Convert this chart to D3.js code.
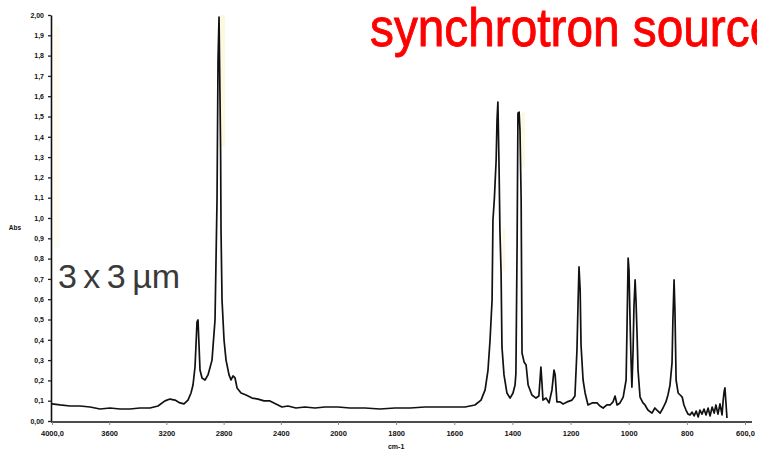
<!DOCTYPE html>
<html>
<head>
<meta charset="utf-8">
<script src="https://cdn.jsdelivr.net/npm/d3@7"></script>
<style>
  html, body { margin: 0; padding: 0; background: #fff; }
  svg { display: block; }
  .tick-label { font-family: "Liberation Sans", Arial, sans-serif; font-weight: bold; fill: #111; }
</style>
</head>
<body>
<svg id="chart" width="757" height="452"></svg>
<script>
// Infrared absorbance spectrum (polypropylene), 3 x 3 µm aperture
const wavenumbers = [
  4000, 3944, 3874, 3804, 3734, 3664, 3594, 3524, 3455, 3385, 3315, 3259, 3210, 3175, 3140, 3105,
  3077, 3049, 3028, 3014, 3000, 2993, 2986, 2979, 2972, 2965, 2951, 2930, 2909, 2881, 2860, 2846,
  2839, 2832, 2825, 2821, 2818, 2811, 2797, 2783, 2762, 2748, 2734, 2720, 2706, 2678, 2643, 2601,
  2559, 2517, 2476, 2434, 2392, 2350, 2294, 2231, 2161, 2091, 2000,
  1959, 1907, 1856, 1804, 1752, 1701, 1649, 1598, 1563, 1529, 1508, 1494, 1484, 1477, 1470, 1467,
  1462, 1456, 1453, 1450, 1446, 1443, 1439, 1436, 1429, 1419, 1408, 1398, 1391, 1388, 1384, 1381,
  1377, 1374, 1370, 1367, 1360, 1353, 1346, 1333, 1319, 1309, 1302, 1298, 1295, 1284, 1274, 1264,
  1257, 1253, 1247, 1236, 1226, 1212, 1195, 1185, 1178, 1174, 1171, 1167, 1164, 1157, 1150, 1140,
  1126, 1109, 1099, 1088, 1075, 1064, 1054, 1047, 1040, 1030, 1019, 1009, 1006, 1002, 999, 996,
  992, 989, 985, 982, 978, 975, 971, 968, 961, 951, 944, 934, 920, 910, 903, 892,
  882, 872, 865, 858, 851, 848, 844, 841, 837, 830, 823, 816, 810, 803, 796, 789,
  782, 775, 768, 761, 755, 748, 741, 734, 727, 720, 713, 706, 700, 693, 686, 679,
  675, 672, 669, 665, 662
];
const absorbance = [
  0.084, 0.079, 0.074, 0.074, 0.069, 0.059, 0.064, 0.059, 0.059, 0.064, 0.064, 0.074, 0.099, 0.108, 0.103, 0.089,
  0.084, 0.103, 0.138, 0.177, 0.266, 0.374, 0.488, 0.498, 0.374, 0.251, 0.212, 0.202, 0.227, 0.300, 0.498, 1.089,
  1.778, 1.990, 1.581, 1.335, 0.941, 0.596, 0.399, 0.300, 0.227, 0.202, 0.222, 0.212, 0.163, 0.138, 0.128, 0.113,
  0.108, 0.099, 0.099, 0.084, 0.069, 0.074, 0.064, 0.069, 0.064, 0.069, 0.069,
  0.064, 0.064, 0.059, 0.064, 0.064, 0.069, 0.069, 0.069, 0.069, 0.079, 0.103, 0.153, 0.251, 0.399, 0.596, 0.990,
  1.099, 1.286, 1.483, 1.571, 1.251, 0.941, 0.729, 0.365, 0.227, 0.138, 0.113, 0.138, 0.177, 0.236, 0.857, 1.517,
  1.522, 1.433, 1.089, 0.335, 0.291, 0.276, 0.177, 0.128, 0.113, 0.123, 0.266, 0.177, 0.103, 0.113, 0.089, 0.153,
  0.251, 0.227, 0.094, 0.094, 0.084, 0.094, 0.103, 0.123, 0.350, 0.596, 0.759, 0.645, 0.374, 0.202, 0.138, 0.079,
  0.089, 0.089, 0.074, 0.064, 0.079, 0.079, 0.094, 0.123, 0.079, 0.089, 0.118, 0.202, 0.448, 0.803, 0.744, 0.532,
  0.300, 0.167, 0.350, 0.562, 0.695, 0.596, 0.414, 0.251, 0.118, 0.089, 0.079, 0.054, 0.039, 0.064, 0.054, 0.039,
  0.064, 0.094, 0.128, 0.177, 0.286, 0.498, 0.695, 0.547, 0.202, 0.138, 0.128, 0.118, 0.079, 0.054, 0.034, 0.030,
  0.044, 0.025, 0.049, 0.020, 0.054, 0.034, 0.059, 0.030, 0.064, 0.025, 0.069, 0.039, 0.079, 0.034, 0.084, 0.030,
  0.103, 0.143, 0.163, 0.079, 0.015
];

// Axis ticks (the wavenumber axis is expanded by 2x below 2000 cm-1)
const xTickValues = [4000, 3600, 3200, 2800, 2400, 2000, 1800, 1600, 1400, 1200, 1000, 800, 600];
const xTickLabels = ["4000,0", "3600", "3200", "2800", "2400", "2000", "1800", "1600", "1400", "1200", "1000", "800", "600,0"];
const yTickValues = d3.range(0, 21).map(i => i / 10);
const yTickLabels = ["0,00", "0,1", "0,2", "0,3", "0,4", "0,5", "0,6", "0,7", "0,8", "0,9", "1,0",
                     "1,1", "1,2", "1,3", "1,4", "1,5", "1,6", "1,7", "1,8", "1,9", "2,00"];

// Pale highlight bands beside the main bands: [wn from, wn to, abs low, abs high, opacity]
const highlightBands = [
  [2826, 2790, 1.35, 2.0, 0.5],
  [3985, 3945, 0.85, 1.95, 0.25],
  [1370, 1357, 1.25, 1.52, 0.5],
  [1434, 1425, 0.74, 0.95, 0.5]
];

const svg = d3.select("#chart");

const x = d3.scaleLinear().domain([4000, 2000, 600]).range([52, 338, 745]);
const y = d3.scaleLinear().domain([0, 2]).range([421, 15]);

// highlight bands
svg.append("g")
  .selectAll("rect")
  .data(highlightBands)
  .join("rect")
  .attr("x", d => x(d[0]))
  .attr("width", d => x(d[1]) - x(d[0]))
  .attr("y", d => y(d[3]))
  .attr("height", d => y(d[2]) - y(d[3]))
  .attr("fill", "#fbf3c4")
  .attr("opacity", d => d[4]);

// y axis
const yAxis = d3.axisLeft(y)
  .tickValues(yTickValues)
  .tickFormat((d, i) => yTickLabels[i])
  .tickSizeInner(3)
  .tickSizeOuter(0)
  .tickPadding(4);
const gy = svg.append("g").attr("transform", "translate(51,0)").call(yAxis);
gy.select(".domain").attr("stroke", "#111").attr("stroke-width", 1.6);
gy.selectAll(".tick line").attr("stroke", "#222").attr("stroke-width", 1.3);
gy.selectAll(".tick text").attr("class", "tick-label").style("font-size", "7px");

// x axis
const xAxis = d3.axisBottom(x)
  .tickValues(xTickValues)
  .tickFormat((d, i) => xTickLabels[i])
  .tickSizeInner(3)
  .tickSizeOuter(0)
  .tickPadding(6);
const gx = svg.append("g").attr("transform", "translate(0,422)").call(xAxis);
gx.select(".domain").attr("stroke", "#111").attr("stroke-width", 1.6)
  .attr("d", `M${x(4000) - 1},0H${x(600) + 7}`);
gx.selectAll(".tick line").attr("stroke", "#888").attr("stroke-width", 1);
gx.selectAll(".tick text").attr("class", "tick-label").style("font-size", "7.5px");

// axis titles
svg.append("text")
  .attr("class", "tick-label")
  .attr("x", 15).attr("y", 230)
  .attr("text-anchor", "middle")
  .style("font-size", "6.5px")
  .text("Abs");
svg.append("text")
  .attr("class", "tick-label")
  .attr("x", x(1800)).attr("y", 449)
  .attr("text-anchor", "middle")
  .style("font-size", "7px")
  .text("cm-1");

// spectrum trace
const points = wavenumbers.map((w, i) => [w, absorbance[i]]);
const line = d3.line().x(d => x(d[0])).y(d => y(d[1]));
svg.append("path")
  .datum(points)
  .attr("fill", "none")
  .attr("stroke", "#111")
  .attr("stroke-width", 1.7)
  .attr("stroke-linejoin", "round")
  .attr("d", line);

// aperture label
svg.append("text")
  .attr("x", 58).attr("y", 288)
  .attr("font-family", "'Liberation Sans', Arial, sans-serif")
  .attr("font-size", 34)
  .attr("fill", "#3a3a3a")
  .attr("word-spacing", "-3")
  .text("3 x 3 µm");

// title (runs off the right edge of the figure)
svg.append("g")
  .attr("transform", "translate(370,46) scale(0.885,1)")
  .append("text")
  .attr("font-family", "'Liberation Sans', Arial, sans-serif")
  .attr("font-size", 54)
  .attr("fill", "#ff0000")
  .attr("stroke", "#ff0000")
  .attr("stroke-width", 0.9)
  .text("synchrotron source");
</script>
</body>
</html>
